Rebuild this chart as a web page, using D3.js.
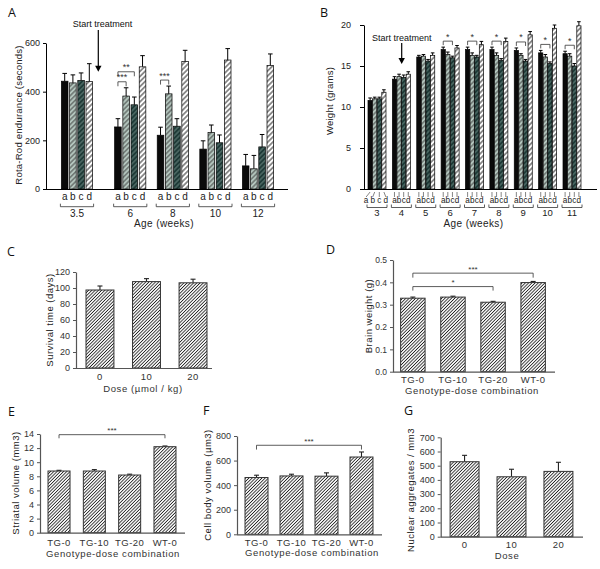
<!DOCTYPE html>
<html>
<head>
<meta charset="utf-8">
<script src="https://cdn.jsdelivr.net/npm/d3@7"></script>
<style>
  html, body { margin: 0; padding: 0; background: #fff; }
  svg { display: block; font-family: "Liberation Sans", Arial, sans-serif; }
  .plabel { font-family: "Open Sans", "Liberation Sans", sans-serif; font-size: 12.5px; fill: #111; }
</style>
</head>
<body>
<svg id="fig" width="600" height="569"></svg>
<script>
// ---------------- data ----------------
// A: rota-rod endurance (seconds), groups a-d by age
const rotaAges = [3.5, 6, 8, 10, 12];
const rotaA = [443, 255, 221, 164, 95];
const rotaB = [436, 382, 391, 232, 83];
const rotaC = [446, 346, 258, 190, 173];
const rotaD = [442, 502, 524, 530, 507];
const rotaErrA = [32, 34, 33, 34, 47];
const rotaErrB = [33, 34, 32, 31, 55];
const rotaErrC = [31, 32, 31, 32, 51];
const rotaErrD = [73, 46, 46, 47, 48];
const rotaSig = [
  { age: 6, from: 0, to: 1, label: '***', level: 0 },
  { age: 6, from: 0, to: 2, label: '**', level: 1 },
  { age: 8, from: 0, to: 1, label: '***', level: 0 }
];

// B: body weight (grams)
const weightWeeks = [3, 4, 5, 6, 7, 8, 9, 10, 11];
const weightA = [10.8, 13.4, 16.1, 17.0, 17.0, 17.0, 16.9, 16.6, 16.5];
const weightB = [11.0, 13.7, 16.2, 16.4, 16.3, 16.3, 16.3, 16.1, 16.2];
const weightC = [11.0, 13.6, 15.6, 16.0, 16.1, 15.7, 15.6, 15.3, 15.0];
const weightD = [11.8, 14.0, 16.3, 17.2, 17.6, 18.0, 18.8, 19.6, 19.9];
const weightErrA = [0.3, 0.3, 0.2, 0.3, 0.3, 0.3, 0.3, 0.3, 0.3];
const weightErrB = [0.2, 0.3, 0.2, 0.3, 0.3, 0.3, 0.2, 0.3, 0.3];
const weightErrC = [0.2, 0.3, 0.2, 0.2, 0.2, 0.2, 0.2, 0.2, 0.3];
const weightErrD = [0.3, 0.3, 0.3, 0.3, 0.4, 0.4, 0.4, 0.4, 0.5];
const weightSigWeeks = [6, 7, 8, 9, 10, 11];

const groupLetters = ['a', 'b', 'c', 'd'];

// C: survival
const survivalDoses = ['0', '10', '20'];
const survivalDays = [97.5, 108, 106.5];
const survivalErr = [5, 3.7, 4.5];

// D-F: genotype-dose combinations
const genotypes = ['TG-0', 'TG-10', 'TG-20', 'WT-0'];
const brainWeight = [0.329, 0.334, 0.311, 0.399];
const brainErr = [0.005, 0.004, 0.004, 0.005];
const striatalVolume = [8.75, 8.75, 8.18, 12.2];
const striatalErr = [0.1, 0.2, 0.12, 0.1];
const cellVolume = [462, 475, 473, 629];
const cellErr = [19, 14, 27, 41];

// G: nuclear aggregates
const aggDoses = ['0', '10', '20'];
const aggregates = [528, 422, 460];
const aggErr = [45, 53, 64];

// ---------------- setup ----------------
const svg = d3.select('#fig');
const defs = svg.append('defs');

// diagonal "/" hatch patterns
function hatch(id, fill, stroke, size, width) {
  const p = defs.append('pattern')
    .attr('id', id)
    .attr('patternUnits', 'userSpaceOnUse')
    .attr('width', size)
    .attr('height', size)
    .attr('patternTransform', 'rotate(45)');
  p.append('rect').attr('width', size).attr('height', size).attr('fill', fill);
  p.append('line')
    .attr('x1', size / 2).attr('y1', 0)
    .attr('x2', size / 2).attr('y2', size)
    .attr('stroke', stroke)
    .attr('stroke-width', width);
}
hatch('hb', '#b3c5bd', '#2b2b2b', 3.4, 0.8);
hatch('hc', '#1e3a37', '#86a09b', 3.4, 0.7);
hatch('hd', '#ffffff', '#111111', 3.6, 0.9);
hatch('hdense', '#ffffff', '#222222', 2.3, 0.85);

const barFills = ['#0a0a0a', 'url(#hb)', 'url(#hc)', 'url(#hd)'];

function panelLabel(txt, x, y) {
  svg.append('text').attr('class', 'plabel').attr('x', x).attr('y', y).text(txt);
}

function yLabel(g, txt, x, y, size, spacing) {
  g.append('text')
    .attr('transform', `translate(${x},${y}) rotate(-90)`)
    .attr('text-anchor', 'middle')
    .style('font-size', size + 'px')
    .style('letter-spacing', spacing + 'px')
    .attr('fill', '#222')
    .text(txt);
}

// bracket with down ticks and a star label
function bracket(g, x1, x2, y, tick, label, size) {
  g.append('path')
    .attr('d', `M${x1},${y + tick}L${x1},${y}L${x2},${y}L${x2},${y + tick}`)
    .attr('fill', 'none')
    .attr('stroke', '#333')
    .attr('stroke-width', 0.8);
  g.append('text')
    .attr('x', (x1 + x2) / 2)
    .attr('y', y - 1.5)
    .attr('text-anchor', 'middle')
    .style('font-size', size + 'px')
    .attr('fill', '#333')
    .text(label);
}

function arrow(g, x, y1, y2) {
  g.append('line')
    .attr('x1', x).attr('y1', y1)
    .attr('x2', x).attr('y2', y2 - 5)
    .attr('stroke', '#000')
    .attr('stroke-width', 1.2);
  g.append('path')
    .attr('d', `M${x - 3.2},${y2 - 6}L${x + 3.2},${y2 - 6}L${x},${y2}Z`)
    .attr('fill', '#000');
}

// ---------------- grouped panels (A, B) ----------------
function drawGrouped(cfg) {
  const g = svg.append('g');
  const { x, y } = cfg;
  const n = cfg.series.length;

  const bars = cfg.groups.flatMap((grp, gi) => cfg.series.map((s, si) => ({
    grp, gi, si,
    cx: x(grp) + (si - (n - 1) / 2) * cfg.step,
    v: s.vals[gi],
    e: s.errs[gi],
    fill: barFills[si]
  })));

  // error bars (upper only)
  g.selectAll('line.err')
    .data(bars)
    .join('line')
    .attr('class', 'err')
    .attr('x1', (d) => d.cx).attr('x2', (d) => d.cx)
    .attr('y1', (d) => y(d.v)).attr('y2', (d) => y(d.v + d.e))
    .attr('stroke', '#000')
    .attr('stroke-width', 1);
  g.selectAll('line.cap')
    .data(bars)
    .join('line')
    .attr('class', 'cap')
    .attr('x1', (d) => d.cx - cfg.cap).attr('x2', (d) => d.cx + cfg.cap)
    .attr('y1', (d) => y(d.v + d.e)).attr('y2', (d) => y(d.v + d.e))
    .attr('stroke', '#000')
    .attr('stroke-width', 1);

  g.selectAll('rect.bar')
    .data(bars)
    .join('rect')
    .attr('class', 'bar')
    .attr('x', (d) => d.cx - cfg.barW / 2)
    .attr('width', cfg.barW)
    .attr('y', (d) => y(d.v))
    .attr('height', (d) => y(0) - y(d.v))
    .attr('fill', (d) => d.fill)
    .attr('stroke', '#000')
    .attr('stroke-width', 0.7);

  // y axis
  const ax = g.append('g')
    .attr('transform', `translate(${cfg.axisX},0)`)
    .call(d3.axisLeft(y).tickValues(cfg.ticks).tickSize(cfg.tickSize).tickSizeOuter(0).tickPadding(cfg.tickPad));
  ax.select('.domain').attr('stroke', '#000');
  ax.selectAll('.tick line').attr('stroke', '#000');
  ax.selectAll('text')
    .style('font-size', cfg.tickFont + 'px')
    .style('font-family', '"Liberation Sans", Arial, sans-serif')
    .attr('fill', '#222');

  // x axis line
  g.append('line')
    .attr('x1', cfg.axisX).attr('x2', cfg.axisEnd)
    .attr('y1', y(0) + 0.5).attr('y2', y(0) + 0.5)
    .attr('stroke', '#000')
    .attr('stroke-width', 1.2);

  // letters a b c d under each group
  const half = (n - 1) / 2 * cfg.step;
  cfg.groups.forEach((grp, gi) => {
    const spread = gi === 0 && cfg.firstSpread ? cfg.firstSpread : cfg.step;
    groupLetters.forEach((l, si) => {
      const bx = x(grp) + (si - (n - 1) / 2) * cfg.step;
      const lx = x(grp) + (si - (n - 1) / 2) * spread + (gi === 0 && cfg.firstShift ? cfg.firstShift : 0);
      if (cfg.pointers) {
        g.append('line')
          .attr('x1', bx).attr('y1', y(0) + 3)
          .attr('x2', lx).attr('y2', y(0) + 8)
          .attr('stroke', '#333')
          .attr('stroke-width', 0.6);
      }
      g.append('text')
        .attr('x', lx)
        .attr('y', cfg.letterY)
        .attr('text-anchor', 'middle')
        .style('font-size', cfg.letterFont + 'px')
        .attr('fill', '#222')
        .text(l);
    });
    const bx1 = x(grp) - half - cfg.barW / 2 - 1;
    const bx2 = x(grp) + half + cfg.barW / 2 + 1;
    g.append('path')
      .attr('d', `M${bx1},${cfg.bracketY - 3}L${bx1},${cfg.bracketY}L${bx2},${cfg.bracketY}L${bx2},${cfg.bracketY - 3}`)
      .attr('fill', 'none')
      .attr('stroke', '#333')
      .attr('stroke-width', 0.8);
    g.append('text')
      .attr('x', x(grp))
      .attr('y', cfg.groupY)
      .attr('text-anchor', 'middle')
      .style('font-size', cfg.groupFont + 'px')
      .attr('fill', '#222')
      .text(grp);
  });

  g.append('text')
    .attr('x', cfg.xlabX)
    .attr('y', cfg.xlabY)
    .attr('text-anchor', 'middle')
    .style('font-size', '10px')
    .style('letter-spacing', '0.4px')
    .attr('fill', '#222')
    .text('Age (weeks)');

  yLabel(g, cfg.ylab, cfg.ylabX, cfg.ylabY, cfg.ylabFont, 0.2);

  // significance brackets
  cfg.sig.forEach((s) => {
    const gi = cfg.groups.indexOf(s.grp);
    const inRange = bars.filter((b) => b.gi === gi && b.si >= s.from && b.si <= s.to);
    const top = d3.min(inRange, (b) => y(b.v + b.e));
    const x1 = bars.find((b) => b.gi === gi && b.si === s.from).cx;
    const x2 = bars.find((b) => b.gi === gi && b.si === s.to).cx;
    bracket(g, x1, x2, top - cfg.sigGap - s.level * cfg.sigStep, cfg.sigTick, s.label, 9);
  });

  // start treatment annotation
  g.append('text')
    .attr('x', cfg.startX)
    .attr('y', cfg.startY)
    .attr('text-anchor', 'middle')
    .style('font-size', '9px')
    .attr('fill', '#111')
    .text('Start treatment');
  arrow(g, cfg.arrowX, cfg.arrowY1, cfg.arrowY2);
}

// Panel A
drawGrouped({
  groups: rotaAges,
  series: [
    { vals: rotaA, errs: rotaErrA },
    { vals: rotaB, errs: rotaErrB },
    { vals: rotaC, errs: rotaErrC },
    { vals: rotaD, errs: rotaErrD }
  ],
  x: d3.scaleLinear().domain([3.5, 12]).range([77, 258]),
  y: d3.scaleLinear().domain([0, 600]).range([189, 43]),
  step: 8.2, barW: 6.6, cap: 2.3,
  axisX: 46, axisEnd: 288, ticks: [0, 200, 400, 600], tickSize: 3, tickPad: 3, tickFont: 9,
  letterY: 199.5, letterFont: 10, bracketY: 206.7, groupY: 216.8, groupFont: 10,
  xlabX: 164, xlabY: 226.5,
  ylab: 'Rota-Rod endurance (seconds)', ylabX: 21.5, ylabY: 115, ylabFont: 9.6,
  sig: rotaSig.map((s) => ({ grp: s.age, from: s.from, to: s.to, label: s.label, level: s.level })),
  sigGap: 6, sigStep: 10, sigTick: 4.5,
  startX: 102.5, startY: 27, arrowX: 98.3, arrowY1: 30, arrowY2: 71.7
});

// Panel B
drawGrouped({
  groups: weightWeeks,
  series: [
    { vals: weightA, errs: weightErrA },
    { vals: weightB, errs: weightErrB },
    { vals: weightC, errs: weightErrC },
    { vals: weightD, errs: weightErrD }
  ],
  x: d3.scaleLinear().domain([3, 11]).range([377, 572]),
  y: d3.scaleLinear().domain([0, 20]).range([189, 25]),
  step: 4.6, barW: 4.2, cap: 1.8,
  axisX: 364, axisEnd: 597, ticks: [0, 5, 10, 15, 20], tickSize: 4, tickPad: 9, tickFont: 9,
  letterY: 203.3, letterFont: 8.2, bracketY: 207.5, groupY: 216, groupFont: 9.5,
  pointers: true, firstSpread: 6.6, firstShift: -1,
  xlabX: 473.5, xlabY: 226.5,
  ylab: 'Weight (grams)', ylabX: 332.5, ylabY: 101, ylabFont: 9.6,
  sig: weightSigWeeks.map((w) => ({ grp: w, from: 0, to: 2, label: '*', level: 0 })),
  sigGap: 6, sigStep: 0, sigTick: 4,
  startX: 401.7, startY: 40.7, arrowX: 401.7, arrowY1: 43, arrowY2: 64
});

// ---------------- simple bar panels (C-G) ----------------
function barPanel(cfg) {
  const g = svg.append('g');
  const x = d3.scaleBand()
    .domain(cfg.cats)
    .range([cfg.x0, cfg.x1])
    .paddingInner(cfg.padIn)
    .paddingOuter(cfg.padOut);
  const y = d3.scaleLinear().domain(cfg.yDomain).range([cfg.yBottom, cfg.yTop]);
  const rows = cfg.cats.map((c, i) => ({ c, v: cfg.vals[i], e: cfg.errs[i] }));

  // error bars
  g.selectAll('line.err')
    .data(rows)
    .join('line')
    .attr('x1', (d) => x(d.c) + x.bandwidth() / 2)
    .attr('x2', (d) => x(d.c) + x.bandwidth() / 2)
    .attr('y1', (d) => y(d.v))
    .attr('y2', (d) => y(d.v + d.e))
    .attr('stroke', '#222')
    .attr('stroke-width', 1.1);
  g.selectAll('line.cap')
    .data(rows)
    .join('line')
    .attr('x1', (d) => x(d.c) + x.bandwidth() / 2 - 2.5)
    .attr('x2', (d) => x(d.c) + x.bandwidth() / 2 + 2.5)
    .attr('y1', (d) => y(d.v + d.e))
    .attr('y2', (d) => y(d.v + d.e))
    .attr('stroke', '#222')
    .attr('stroke-width', 1.1);

  g.selectAll('rect.bar')
    .data(rows)
    .join('rect')
    .attr('x', (d) => x(d.c))
    .attr('width', x.bandwidth())
    .attr('y', (d) => y(d.v))
    .attr('height', (d) => y(0) - y(d.v))
    .attr('fill', 'url(#hdense)')
    .attr('stroke', '#333')
    .attr('stroke-width', 1);

  // y axis
  const ax = g.append('g')
    .attr('transform', `translate(${cfg.x0},0)`)
    .call(d3.axisLeft(y).tickValues(cfg.ticks).tickFormat(cfg.fmt).tickSize(3).tickSizeOuter(0).tickPadding(3));
  ax.select('.domain').attr('stroke', '#555').attr('stroke-width', 1.2);
  ax.selectAll('.tick line').attr('stroke', '#555');
  ax.selectAll('text')
    .style('font-size', cfg.tickFont + 'px')
    .style('font-family', '"Liberation Sans", Arial, sans-serif')
    .attr('fill', '#333');

  // x axis line + category labels
  g.append('line')
    .attr('x1', cfg.x0).attr('x2', cfg.axisEnd)
    .attr('y1', y(0) + 0.5).attr('y2', y(0) + 0.5)
    .attr('stroke', '#555')
    .attr('stroke-width', 1.2);
  g.selectAll('text.cat')
    .data(rows)
    .join('text')
    .attr('x', (d) => x(d.c) + x.bandwidth() / 2)
    .attr('y', y(0) + cfg.catDy)
    .attr('text-anchor', 'middle')
    .style('font-size', '9.5px')
    .style('letter-spacing', '0.5px')
    .attr('fill', '#333')
    .text((d) => d.c);

  g.append('text')
    .attr('x', cfg.xlabX)
    .attr('y', y(0) + cfg.xlabDy)
    .attr('text-anchor', 'middle')
    .style('font-size', '9.5px')
    .style('letter-spacing', '0.6px')
    .attr('fill', '#333')
    .text(cfg.xlab);

  yLabel(g, cfg.ylab, cfg.ylabX, cfg.ylabY, 9.5, 0.5);

  (cfg.sig || []).forEach((s) => {
    const sub = rows.slice(s.from, s.to + 1);
    const top = d3.min(sub, (d) => y(d.v + d.e));
    const x1 = x(rows[s.from].c) + x.bandwidth() / 2;
    const x2 = x(rows[s.to].c) + x.bandwidth() / 2;
    bracket(g, x1, x2, top - s.gap, s.tick, s.label, 8);
  });

  panelLabel(cfg.label, cfg.labelX, cfg.labelY);
}

panelLabel('A', 8, 16.5);
panelLabel('B', 320, 17);

barPanel({
  label: 'C', labelX: 7, labelY: 256,
  cats: survivalDoses, vals: survivalDays, errs: survivalErr,
  x0: 76, x1: 217, padIn: 0.4, padOut: 0.215, axisEnd: 212,
  yDomain: [0, 120], yTop: 272, yBottom: 368, ticks: d3.range(0, 121, 20), fmt: d3.format('d'), tickFont: 9,
  ylab: 'Survival time (days)', ylabX: 53, ylabY: 320,
  xlab: 'Dose (µmol / kg)', xlabX: 143, catDy: 12, xlabDy: 24
});

barPanel({
  label: 'D', labelX: 326, labelY: 254,
  cats: genotypes, vals: brainWeight, errs: brainErr,
  x0: 393, x1: 553, padIn: 0.39, padOut: 0.19, axisEnd: 555,
  yDomain: [0, 0.5], yTop: 260, yBottom: 371.7, ticks: [0, 0.1, 0.2, 0.3, 0.4, 0.5], fmt: d3.format('.1f'), tickFont: 8.5,
  ylab: 'Brain weight (g)', ylabX: 372, ylabY: 316,
  xlab: 'Genotype-dose combination', xlabX: 472, catDy: 11, xlabDy: 22,
  sig: [
    { from: 0, to: 3, label: '***', gap: 8.3, tick: 4.5 },
    { from: 0, to: 2, label: '*', gap: 9.6, tick: 4 }
  ]
});

barPanel({
  label: 'E', labelX: 8, labelY: 416,
  cats: genotypes, vals: striatalVolume, errs: striatalErr,
  x0: 40, x1: 184, padIn: 0.377, padOut: 0.227, axisEnd: 185,
  yDomain: [0, 14], yTop: 434, yBottom: 532.7, ticks: d3.range(0, 15, 2), fmt: d3.format('d'), tickFont: 9,
  ylab: 'Striatal volume (mm3)', ylabX: 18.5, ylabY: 483,
  xlab: 'Genotype-dose combination', xlabX: 113, catDy: 13, xlabDy: 24,
  sig: [{ from: 0, to: 3, label: '***', gap: 11.3, tick: 3.6 }]
});

barPanel({
  label: 'F', labelX: 203, labelY: 415,
  cats: genotypes, vals: cellVolume, errs: cellErr,
  x0: 237, x1: 381, padIn: 0.343, padOut: 0.229, axisEnd: 382,
  yDomain: [0, 800], yTop: 436, yBottom: 534.3, ticks: d3.range(0, 801, 200), fmt: d3.format('d'), tickFont: 9,
  ylab: 'Cell body volume (µm3)', ylabX: 210.5, ylabY: 485,
  xlab: 'Genotype-dose combination', xlabX: 312, catDy: 11.5, xlabDy: 22,
  sig: [{ from: 0, to: 3, label: '***', gap: 6.7, tick: 4.3 }]
});

barPanel({
  label: 'G', labelX: 404, labelY: 415,
  cats: aggDoses, vals: aggregates, errs: aggErr,
  x0: 440.7, x1: 582.3, padIn: 0.383, padOut: 0.2, axisEnd: 583,
  yDomain: [0, 700], yTop: 437.3, yBottom: 536.7, ticks: d3.range(0, 701, 100), fmt: d3.format('d'), tickFont: 9,
  ylab: 'Nuclear aggregates / mm3', ylabX: 414, ylabY: 490,
  xlab: 'Dose', xlabX: 507, catDy: 11.5, xlabDy: 22
});
</script>
</body>
</html>
